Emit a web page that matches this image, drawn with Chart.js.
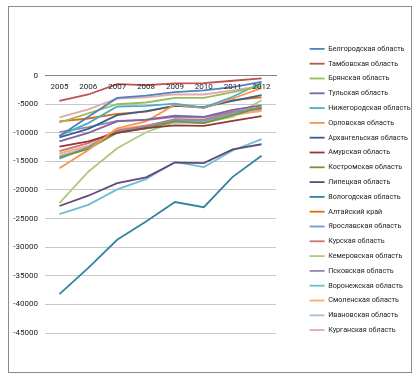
<!DOCTYPE html>
<html>
<head>
<meta charset="utf-8">
<script src="https://cdn.jsdelivr.net/npm/chart.js@4/dist/chart.umd.min.js"></script>
<style>
  html, body { margin: 0; padding: 0; background: #fff; }
  #wrap { position: relative; width: 420px; height: 381px; }
  #frame { position: absolute; left: 8px; top: 6px; width: 402px; height: 365px; border: 1px solid #8c8c8c; pointer-events: none; }
</style>
</head>
<body>
<div id="wrap">
  <canvas id="chart" width="420" height="381"></canvas>
  <div id="frame"></div>
</div>
<script>
// годы и области
var years = ["2005", "2006", "2007", "2008", "2009", "2010", "2011", "2012"];
var regions = ["Белгородская область", "Тамбовская область", "Брянская область", "Тульская область",
  "Нижегородская область", "Орловская область", "Архангельская область", "Амурская область",
  "Костромская область", "Липецкая область", "Вологодская область", "Алтайский край",
  "Ярославская область", "Курская область", "Кемеровская область", "Псковская область",
  "Воронежская область", "Смоленская область", "Ивановская область", "Курганская область"];

// значения (оценка по картинке)
var belgorod    = [-10600, -7200, -3900, -3500, -2900, -2600, -2000, -1100];
var tambov      = [-4400, -3300, -1500, -1650, -1350, -1300, -900, -500];
var bryansk     = [-8200, -6600, -5000, -4700, -3900, -3900, -2900, -1900];
var tula        = [-11500, -10000, -8000, -7700, -7000, -7200, -6000, -5200];
var nizhny      = [-10500, -8300, -5400, -5300, -4900, -5600, -3700, -1300];
var orel        = [-16200, -13000, -9200, -8000, -5100, -5700, -4000, -2200];
var arkhangelsk = [-10800, -9300, -6900, -6200, -5300, -5500, -4400, -3400];
var amur        = [-12400, -11500, -10000, -9200, -8700, -8800, -7900, -7100];
var kostroma    = [-14300, -12800, -10000, -9200, -8000, -8300, -6900, -5500];
var lipetsk     = [-22800, -21000, -18800, -17800, -15200, -15300, -12900, -12000];
var vologda     = [-38200, -33600, -28700, -25500, -22100, -23000, -17700, -14000];
var altai       = [-8000, -7500, -6700, -6300, -5300, -5500, -4300, -3800];
var yaroslavl   = [-14500, -12500, -9800, -9000, -7800, -7900, -6500, -5600];
var kursk       = [-13200, -11800, -9600, -8800, -7600, -7700, -6400, -5800];
var kemerovo    = [-22300, -16800, -12700, -9900, -8100, -8200, -7200, -4300];
var pskov       = [-9900, -9000, -7900, -7800, -7200, -7300, -6300, -5600];
var voronezh    = [-24200, -22600, -19900, -18100, -15100, -16000, -13100, -11100];
var smolensk    = [-13600, -12300, -9400, -8700, -8000, -8000, -6800, -6200];
var ivanovo     = [-14000, -12600, -9700, -9300, -8200, -8300, -7000, -6000];
var kurgan      = [-7300, -5900, -4000, -3800, -3300, -3300, -2600, -1800];

var series = [belgorod, tambov, bryansk, tula, nizhny, orel, arkhangelsk, amur, kostroma, lipetsk,
  vologda, altai, yaroslavl, kursk, kemerovo, pskov, voronezh, smolensk, ivanovo, kurgan];

// цвета как в Excel
var colors = ["#4F81BD", "#C0504D", "#9BBB59", "#8064A2", "#4BACC6", "#F79646",
  "#376092", "#953735", "#77933C", "#60497A", "#31859C", "#E46C0A",
  "#729ACA", "#CD7371", "#AFC97A", "#9983B5", "#6FBDD1", "#F9AB6B",
  "#A7BFDE", "#E0ABAA"];

var datasets = regions.map(function (name, i) {
  return {
    label: name,
    data: series[i],
    borderColor: colors[i],
    backgroundColor: colors[i],
    borderWidth: 1.8,
    pointRadius: 0,
    fill: false,
    tension: 0
  };
});

// подписи годов под осью (ось сверху, подписи внутри области)
var yearLabels = {
  id: "yearLabels",
  afterDraw: function (chart) {
    var c = chart.ctx, xs = chart.scales.x, top = chart.chartArea.top;
    c.save();
    c.font = "8px Roboto";
    c.fillStyle = "#222";
    c.textAlign = "center";
    c.textBaseline = "middle";
    years.forEach(function (y, i) {
      c.fillText(y, xs.getPixelForValue(i), top + 11);
    });
    c.restore();
  }
};

Chart.defaults.font.family = "Roboto";
Chart.defaults.font.size = 8;
Chart.defaults.color = "#222";

var ctx = document.getElementById("chart").getContext("2d");
var myChart = new Chart(ctx, {
  type: "line",
  data: { labels: years, datasets: datasets },
  options: {
    responsive: false,
    animation: false,
    layout: { padding: { left: 8, right: 8, top: 6, bottom: 8 } },
    plugins: {
      tooltip: { enabled: false },
      legend: {
        position: "right",
        maxWidth: 110,
        labels: {
          usePointStyle: true,
          pointStyle: "line",
          pointStyleWidth: 15,
          boxHeight: 8,
          padding: 7.6,
          font: { size: 7.2 }
        }
      }
    },
    scales: {
      x: {
        position: "top",
        offset: true,
        grid: { display: false, drawTicks: false },
        border: { color: "#868686" },
        ticks: { display: false },
        afterFit: function (s) { s.height = 69.6; }
      },
      xB: {
        type: "category",
        position: "bottom",
        display: true,
        grid: { display: false, drawTicks: false },
        border: { display: false },
        ticks: { display: false },
        afterFit: function (s) { s.height = 40; }
      },
      y: {
        min: -45000,
        max: 0,
        ticks: { stepSize: 5000, padding: 7, callback: function (v) { return String(v); } },
        grid: { color: "#c8c8c8", drawTicks: false },
        border: { display: false },
        afterFit: function (s) { s.width = 37; }
      },
      yR: {
        type: "linear",
        position: "right",
        display: true,
        grid: { display: false, drawTicks: false },
        border: { display: false },
        ticks: { display: false },
        afterFit: function (s) { s.width = 26; }
      }
    }
  },
  plugins: [yearLabels]
});
</script>
</body>
</html>
